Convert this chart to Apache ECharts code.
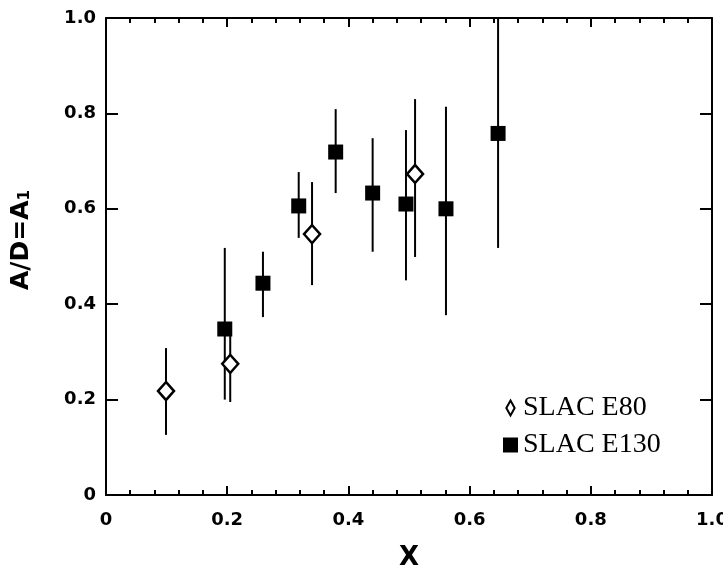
<!DOCTYPE html>
<html>
<head>
<meta charset="utf-8">
<script src="https://cdn.jsdelivr.net/npm/echarts@6/dist/echarts.min.js"></script>
<style>html,body{margin:0;padding:0;background:#fff;}#c{width:723px;height:572px;}</style>
</head>
<body>
<div id="c"></div>
<script>
// SLAC E80 (open diamonds): x, A1, lower error, upper error
var e80X    = [0.099, 0.205, 0.340, 0.510];
var e80Y    = [0.218, 0.275, 0.547, 0.673];
var e80Low  = [0.126, 0.195, 0.440, 0.499];
var e80High = [0.308, 0.345, 0.656, 0.830];

// SLAC E130 (filled squares)
var e130X    = [0.196, 0.259, 0.318, 0.379, 0.440, 0.495, 0.561, 0.647];
var e130Y    = [0.348, 0.444, 0.606, 0.719, 0.633, 0.610, 0.600, 0.758];
var e130Low  = [0.200, 0.373, 0.539, 0.633, 0.510, 0.450, 0.377, 0.518];
var e130High = [0.518, 0.510, 0.677, 0.809, 0.748, 0.765, 0.814, 1.000];

var xTicks = [0, 0.2, 0.4, 0.6, 0.8, 1.0];
var yTicks = [0, 0.2, 0.4, 0.6, 0.8, 1.0];

function pts(xs, ys) { return xs.map(function (x, i) { return [x, ys[i]]; }); }
function bars(xs, lo, hi) { return xs.map(function (x, i) { return [x, lo[i], hi[i]]; }); }
function fmt(v) { return v === 0 ? '0' : v.toFixed(1); }

function errRender(params, api) {
  var p1 = api.coord([api.value(0), api.value(1)]);
  var p2 = api.coord([api.value(0), api.value(2)]);
  return {
    type: 'line',
    shape: { x1: p1[0], y1: p1[1], x2: p2[0], y2: p2[1] },
    style: { stroke: '#000', lineWidth: 2 }
  };
}

var tickFont = { color: '#000', fontFamily: 'DejaVu Sans', fontWeight: 'bold', fontSize: 18 };
var lineStyle = { color: '#000', width: 2 };

var chart = echarts.init(document.getElementById('c'));
chart.setOption({
  animation: false,
  backgroundColor: '#fff',
  grid: { left: 106, right: 11, top: 18, bottom: 77, containLabel: false, outerBoundsMode: 'none' },
  xAxis: [
    {
      type: 'value', min: 0, max: 1, interval: 0.2, position: 'bottom',
      axisLine: { onZero: false, lineStyle: lineStyle },
      axisTick: { inside: true, length: 9, lineStyle: lineStyle },
      minorTick: { show: true, splitNumber: 5, length: 5, lineStyle: { color: '#000', width: 2 } },
      splitLine: { show: false },
      axisLabel: Object.assign({ margin: 16, formatter: function (v) { return fmt(v); } }, tickFont),
      name: 'X', nameLocation: 'middle', nameGap: 50,
      nameTextStyle: { color: '#000', fontFamily: 'DejaVu Sans', fontWeight: 'bold', fontSize: 26 }
    },
    {
      type: 'value', min: 0, max: 1, interval: 0.2, position: 'top',
      axisLine: { onZero: false, lineStyle: lineStyle },
      axisTick: { inside: true, length: 9, lineStyle: lineStyle },
      minorTick: { show: true, splitNumber: 5, length: 5, lineStyle: { color: '#000', width: 2 } },
      splitLine: { show: false },
      axisLabel: { show: false }
    }
  ],
  yAxis: [
    {
      type: 'value', min: 0, max: 1, interval: 0.2, position: 'left',
      axisLine: { onZero: false, lineStyle: lineStyle },
      axisTick: { inside: true, length: 12, lineStyle: lineStyle },
      splitLine: { show: false },
      axisLabel: Object.assign({ margin: 10, formatter: function (v) { return fmt(v); } }, tickFont)
    },
    {
      type: 'value', min: 0, max: 1, interval: 0.2, position: 'right',
      axisLine: { onZero: false, lineStyle: lineStyle },
      axisTick: { inside: true, length: 12, lineStyle: lineStyle },
      splitLine: { show: false },
      axisLabel: { show: false }
    }
  ],
  legend: {
    left: 498, top: 389, orient: 'vertical', itemGap: 9,
    itemWidth: 15, itemHeight: 15, symbolKeepAspect: true,
    textStyle: { color: '#000', fontFamily: 'Liberation Serif', fontSize: 28 },
    data: [
      { name: 'SLAC E80', icon: 'path://M5,0 L10,9 L5,18 L0,9 Z' },
      { name: 'SLAC E130', icon: 'rect' }
    ]
  },
  graphic: [{
    type: 'text', x: 21, y: 240, rotation: Math.PI / 2,
    style: {
      text: 'A/D=A{s|1}', align: 'center', verticalAlign: 'middle',
      fill: '#000', font: 'bold 25px "DejaVu Sans"',
      rich: { s: { fontSize: 15, fontWeight: 'bold', fontFamily: 'DejaVu Sans', fill: '#000', padding: [8, 0, 0, 0] } }
    }
  }],
  series: [
    { type: 'custom', name: 'e80err', renderItem: errRender, data: bars(e80X, e80Low, e80High), z: 1, silent: true },
    { type: 'custom', name: 'e130err', renderItem: errRender, data: bars(e130X, e130Low, e130High), z: 1, silent: true },
    {
      type: 'scatter', name: 'SLAC E80', data: pts(e80X, e80Y), symbol: 'diamond', symbolSize: [16, 18],
      itemStyle: { color: '#fff', borderColor: '#000', borderWidth: 2.5, opacity: 1 }, z: 3
    },
    {
      type: 'scatter', name: 'SLAC E130', data: pts(e130X, e130Y), symbol: 'rect', symbolSize: 15,
      itemStyle: { color: '#000', borderColor: '#000', borderWidth: 0, opacity: 1 }, z: 3
    }
  ]
});
</script>
</body>
</html>
